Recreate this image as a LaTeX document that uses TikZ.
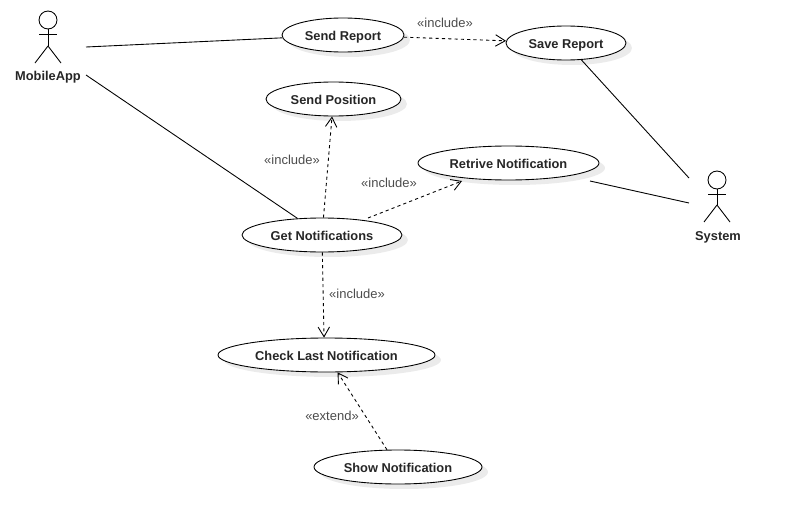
\documentclass[tikz,border=0pt]{standalone}
\usepackage{fontspec}
\setmainfont{Liberation Sans}
\usetikzlibrary{shapes.geometric,shadows,arrows.meta}
\tikzset{
  usecase/.style={ellipse, draw, fill=white, minimum height=0.68cm, inner sep=0pt, line width=0.5pt,
    font=\fontsize{7.3}{9}\selectfont\bfseries, text=black!85, text height=6.4pt, text depth=0pt,
    drop shadow={shadow xshift=0.12cm, shadow yshift=-0.1cm, fill=black!8, opacity=1}},
  actorhead/.style={circle, draw, minimum size=0.36cm, inner sep=0pt, line width=0.5pt},
  actorname/.style={font=\fontsize{7.3}{9}\selectfont\bfseries, text=black!85},
  stereo/.style={font=\fontsize{7.4}{9}\selectfont, text=black!70},
  assoc/.style={line width=0.5pt},
  depend/.style={line width=0.5pt, dash pattern=on 1.8pt off 1.8pt, -{Straight Barb[length=5.5pt,width=6.5pt]}}
}
\begin{document}
\begin{tikzpicture}[x=0.02cm,y=-0.02cm]
\useasboundingbox (0,0) rectangle (785,524);

\node [usecase, minimum width=2.44cm] (report) at (343,35) {Send Report};
\node [usecase, minimum width=2.40cm] (save) at (566,43) {Save Report};
\node [usecase, minimum width=2.70cm] (position) at (333.5,99) {Send Position};
\node [usecase, minimum width=3.62cm] (retrive) at (508.5,163) {Retrive Notification};
\node [usecase, minimum width=3.20cm] (getnot) at (322,235) {Get Notifications};
\node [usecase, minimum width=4.34cm] (check) at (326.5,355) {Check Last Notification};
\node [usecase, minimum width=3.36cm] (show) at (398,467) {Show Notification};

% mobile app actor
\node [actorhead] (mobilehead) at (48,20) {};
\node [actorname] (mobilename) at (48,77.5) {MobileApp};
\coordinate (mobilearml) at (39,34);
\coordinate (mobilearmr) at (57,34);
\coordinate (mobilehip) at (48,46);
\coordinate (mobilelegl) at (35,63);
\coordinate (mobilelegr) at (61,63);
\draw [assoc] (mobilehead) edge (mobilehip);
\draw [assoc] (mobilearml) edge (mobilearmr);
\draw [assoc] (mobilehip) edge (mobilelegl);
\draw [assoc] (mobilehip) edge (mobilelegr);

% system actor
\node [actorhead] (systemhead) at (717,180) {};
\node [actorname] (systemname) at (718,237) {System};
\coordinate (systemarml) at (708,194);
\coordinate (systemarmr) at (726,194);
\coordinate (systemhip) at (717,205);
\coordinate (systemlegl) at (704,222);
\coordinate (systemlegr) at (730,222);
\draw [assoc] (systemhead) edge (systemhip);
\draw [assoc] (systemarml) edge (systemarmr);
\draw [assoc] (systemhip) edge (systemlegl);
\draw [assoc] (systemhip) edge (systemlegr);

% free ends of the connectors
\coordinate (mobileup) at (86,47);
\coordinate (mobiledown) at (86,75);
\coordinate (systemup) at (689,178);
\coordinate (systemdown) at (689,203);
\coordinate (retriveend) at (590,181);
\coordinate (getstart) at (368,218);
\coordinate (retrivetip) at (462,181);

\draw [assoc] (mobileup) -- (report);
\draw [assoc] (mobiledown) -- (getnot);
\draw [assoc] (systemup) -- (save);
\draw [assoc] (systemdown) -- (retriveend);

\draw [depend] (report) -- (save);
\draw [depend] (getnot) -- (position);
\draw [depend] (getstart) -- (retrivetip);
\draw [depend] (getnot) -- (check.98);
\draw [depend] (show) -- (check);

\node [stereo] (incsave) at (445,22.5) {«include»};
\node [stereo] (incpos) at (292,159.5) {«include»};
\node [stereo] (incret) at (389,182.5) {«include»};
\node [stereo] (inccheck) at (357,293.5) {«include»};
\node [stereo] (extshow) at (332,415.5) {«extend»};
\end{tikzpicture}
\end{document}
